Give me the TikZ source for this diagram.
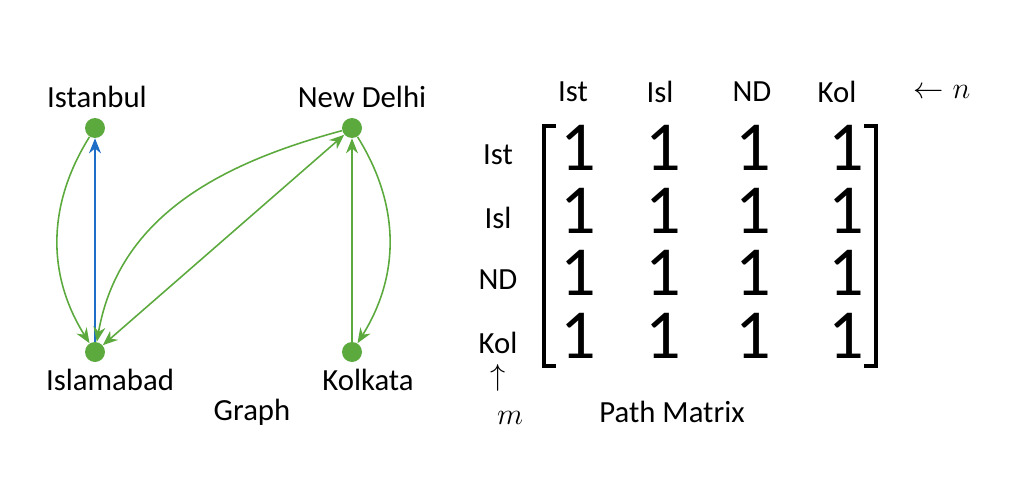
\documentclass[tikz,border=0pt]{standalone}
\usepackage{fontspec}
\setmainfont{Carlito}
\usepackage{tikz}
\usetikzlibrary{arrows.meta}

\begin{document}
\begin{tikzpicture}[x=0.02cm,y=-0.02cm,
        city/.style={circle, fill = cityGreen, inner sep = 0pt, minimum size = 0.4cm},
        label/.style={font = \fontsize{17.5}{20}\selectfont, inner sep = 1pt},
        one/.style={font = \fontsize{40}{46}\selectfont, inner sep = 0pt, text height = 0.62cm, text depth = 0pt},
        link/.style={-{Stealth[length=3mm,width=2.4mm]}, line width=0.9pt, draw = cityGreen},
    ]
    \definecolor{cityGreen}{RGB}{92,170,62}
    \definecolor{linkBlue}{RGB}{30,110,200}
    \useasboundingbox (0,0) rectangle (1024,480);
    % graph
    \node (istanbul) [city] at (95,128) {};
    \node (newDelhi) [city] at (352,128) {};
    \node (islamabad) [city] at (95,352) {};
    \node (kolkata) [city] at (352,352) {};
    \node [label] at (97,97) {Istanbul};
    \node [label] at (362,97) {New Delhi};
    \node [label] at (110,380) {Islamabad};
    \node [label] at (368,380) {Kolkata};
    \node (graphTitle) [label] at (252,412) {Graph};

    \draw [link, draw = linkBlue] (islamabad) -- (istanbul);
    \draw [link] (istanbul) to[bend right=32] (islamabad);
    \draw [link] (newDelhi) to[out=195, in=80] (islamabad);
    \draw [link, {Stealth[length=3mm,width=2.4mm]}-{Stealth[length=3mm,width=2.4mm]}] (islamabad) -- (newDelhi);
    \draw [link] (kolkata) -- (newDelhi);
    \draw [link] (newDelhi) to[bend left=32] (kolkata);

    % matrix
    \foreach \name/\x in {Ist/573, Isl/660, ND/752, Kol/837} {
        \node [label] at (\x,92) {\name};
    }
    \foreach \name/\y in {Ist/155, Isl/218, ND/280, Kol/343} {
        \node [label] at (498,\y) {\name};
        \foreach \x in {578,663,753,846} {
            \node [one] at (\x,\y) {1};
        }
    }
    \node [label] at (942,92) {$\leftarrow n$};
    \node [label] at (498,378) {$\uparrow$};
    \node [label] at (510,418) {$m$};
    \node (matrixTitle) [label] at (672,412) {Path Matrix};
    \draw [line width=2.2pt] (556,126) -- (544,126) -- (544,366) -- (556,366);
    \draw [line width=2.2pt] (864,126) -- (876,126) -- (876,366) -- (864,366);
\end{tikzpicture}
\end{document}
